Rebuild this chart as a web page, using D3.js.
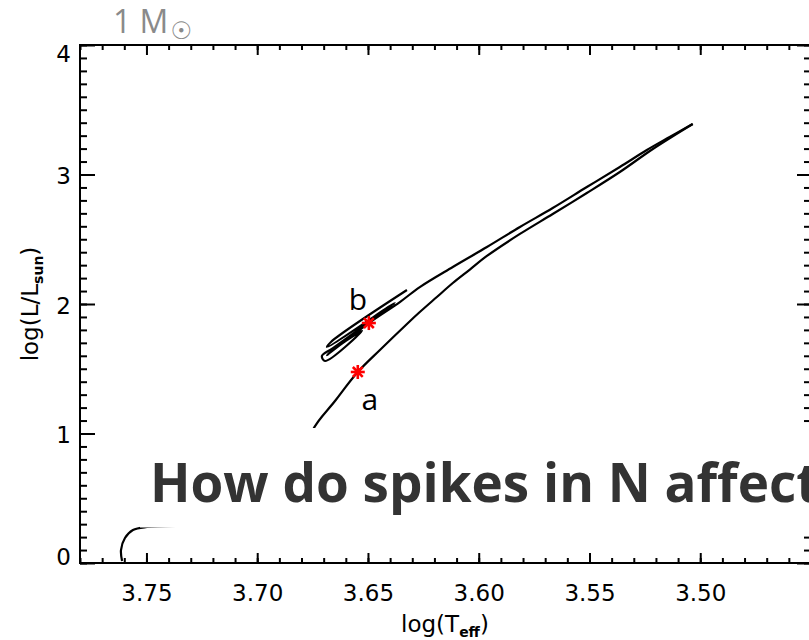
<!DOCTYPE html>
<html>
<head>
<meta charset="utf-8">
<script src="https://cdn.jsdelivr.net/npm/d3@7"></script>
<style>
  body { margin: 0; background: #fff; }
</style>
</head>
<body>
<svg id="chart" width="809" height="640" font-family="DejaVu Sans"></svg>
<script>
// tick labels
var xTickLabels = ["3.75", "3.70", "3.65", "3.60", "3.55", "3.50"];
var yTickLabels = ["0", "1", "2", "3", "4"];

// main sequence -> red giant branch tip
var rgbTeff = [3.7610, 3.7615, 3.7597, 3.7561, 3.7498, 3.7304, 3.7078, 3.6920, 3.6830, 3.6780,
  3.6749, 3.6649, 3.6546, 3.6446, 3.6324, 3.6266, 3.6189, 3.6117, 3.6040, 3.5963,
  3.5814, 3.5666, 3.5512, 3.5363, 3.5214, 3.5034];
var rgbLum = [0.015, 0.100, 0.193, 0.255, 0.278, 0.288, 0.296, 0.360, 0.560, 0.800,
  1.027, 1.251, 1.475, 1.645, 1.846, 1.938, 2.054, 2.162, 2.266, 2.371,
  2.541, 2.695, 2.857, 3.019, 3.197, 3.390];

// clump + asymptotic giant branch
var agbTeff = [3.6324, 3.6667, 3.6685, 3.6379, 3.6658, 3.6708, 3.6694, 3.6527, 3.6627, 3.6685,
  3.6496, 3.6356, 3.6266, 3.6117, 3.5963, 3.5814, 3.5666, 3.5512, 3.5363, 3.5241,
  3.5138, 3.5034];
var agbLum = [2.108, 1.707, 1.668, 2.008, 1.660, 1.598, 1.560, 1.792, 1.683, 1.606,
  1.853, 2.015, 2.131, 2.286, 2.440, 2.595, 2.741, 2.903, 3.058, 3.189,
  3.290, 3.390];

// marked models
var markNames = ["a", "b"];
var markTeff = [3.6546, 3.6496];
var markLum = [1.475, 1.853];

var svg = d3.select("#chart");
svg.append("rect").attr("width", 809).attr("height", 640).attr("fill", "#fff");

var x = d3.scaleLinear().domain([3.78, 3.45]).range([80, 811]);
var y = d3.scaleLinear().domain([0, 4]).range([563, 45]);

var xMajor = xTickLabels.map(Number);
var yMajor = yTickLabels.map(Number);
var xMinor = d3.range(346, 379).map(function(d) { return d / 100; });
var yMinor = d3.range(0, 41).map(function(d) { return d / 10; });

var styleAxis = function(g) {
  g.select(".domain").remove();
  g.selectAll("line").attr("stroke", "#000").attr("stroke-width", 2);
  g.selectAll("text").attr("font-family", "DejaVu Sans").attr("font-size", 23).attr("fill", "#000");
};

// bottom
svg.append("g").attr("transform", "translate(0,563)")
  .call(d3.axisBottom(x).tickValues(xMinor).tickSize(-5).tickFormat(""))
  .call(styleAxis);
svg.append("g").attr("transform", "translate(0,563)")
  .call(d3.axisBottom(x).tickValues(xMajor).tickSize(-10).tickPadding(22)
    .tickFormat(function(d, i) { return xTickLabels[i]; }))
  .call(styleAxis);
// top
svg.append("g").attr("transform", "translate(0,45)")
  .call(d3.axisTop(x).tickValues(xMinor).tickSize(-5).tickFormat(""))
  .call(styleAxis);
svg.append("g").attr("transform", "translate(0,45)")
  .call(d3.axisTop(x).tickValues(xMajor).tickSize(-10).tickFormat(""))
  .call(styleAxis);
// left
svg.append("g").attr("transform", "translate(80,0)")
  .call(d3.axisLeft(y).tickValues(yMinor).tickSize(-7).tickFormat(""))
  .call(styleAxis);
svg.append("g").attr("transform", "translate(80,0)")
  .call(d3.axisLeft(y).tickValues(yMajor).tickSize(-15).tickPadding(9)
    .tickFormat(function(d, i) { return yTickLabels[i]; }))
  .call(styleAxis)
  .selectAll("text")
  .attr("y", function(d) { return d == 4 ? 9 : d == 0 ? -6 : 2; });
// right
svg.append("g").attr("transform", "translate(810,0)")
  .call(d3.axisRight(y).tickValues(yMinor).tickSize(-6).tickFormat(""))
  .call(styleAxis);
svg.append("g").attr("transform", "translate(810,0)")
  .call(d3.axisRight(y).tickValues(yMajor).tickSize(-13).tickFormat(""))
  .call(styleAxis);

// frame
svg.append("rect")
  .attr("x", x(3.78)).attr("y", y(4))
  .attr("width", 810 - x(3.78)).attr("height", y(0) - y(4))
  .attr("fill", "none").attr("stroke", "#000").attr("stroke-width", 2);

// axis titles
var xt = svg.append("text").attr("x", 445).attr("y", 632)
  .attr("text-anchor", "middle").attr("font-size", 23);
xt.append("tspan").text("log(T");
xt.append("tspan").attr("dy", 5).attr("font-size", 14).attr("font-weight", "bold").text("eff");
xt.append("tspan").attr("dy", -5).text(")");

var yt = svg.append("text").attr("transform", "translate(38,304) rotate(-90)")
  .attr("text-anchor", "middle").attr("font-size", 23);
yt.append("tspan").text("log(L/L");
yt.append("tspan").attr("dy", 5).attr("font-size", 14).attr("font-weight", "bold").text("sun");
yt.append("tspan").attr("dy", -5).text(")");

// tracks
var line = d3.line()
  .x(function(d) { return x(d[0]); })
  .y(function(d) { return y(d[1]); })
  .curve(d3.curveCatmullRom.alpha(0.5));

svg.append("path").datum(d3.zip(rgbTeff, rgbLum))
  .attr("d", line).attr("fill", "none").attr("stroke", "#000").attr("stroke-width", 2.2);
svg.append("path").datum(d3.zip(agbTeff, agbLum))
  .attr("d", line).attr("fill", "none").attr("stroke", "#000").attr("stroke-width", 2.2);

// red asterisks
var marks = svg.selectAll(".mark").data(d3.zip(markTeff, markLum, markNames)).enter()
  .append("g").attr("class", "mark")
  .attr("transform", function(d) { return "translate(" + x(d[0]) + "," + y(d[1]) + ")"; });
[0, 45, 90, 135].forEach(function(a) {
  marks.append("line")
    .attr("x1", -7).attr("x2", 7).attr("y1", 0).attr("y2", 0)
    .attr("transform", "rotate(" + a + ")")
    .attr("stroke", "#f00").attr("stroke-width", 2.6);
});
marks.append("text")
  .attr("x", function(d) { return d[2] == "a" ? 12 : -11; })
  .attr("y", function(d) { return d[2] == "a" ? 38 : -13; })
  .attr("text-anchor", "middle")
  .attr("font-family", "Open Sans").attr("font-size", 30).attr("fill", "#000")
  .text(function(d) { return d[2]; });

// slide overlay: mass label and title with white box
var mt = svg.append("text").attr("x", 113).attr("y", 33)
  .attr("font-family", "Open Sans").attr("font-size", 32).attr("fill", "#8a8a8a");
mt.append("tspan").text("1 M");
mt.append("tspan").attr("dx", 2).attr("dy", 6).attr("font-family", "DejaVu Sans")
  .attr("font-size", 24).text("\u2609");

svg.append("rect").attr("x", 140).attr("y", 428).attr("width", 669).attr("height", 99.5)
  .attr("fill", "#fff");
svg.append("text").attr("x", 150).attr("y", 502)
  .attr("font-family", "Open Sans").attr("font-weight", "bold").attr("font-size", 53)
  .attr("fill", "#333").text("How do spikes in N affect");
</script>
</body>
</html>
